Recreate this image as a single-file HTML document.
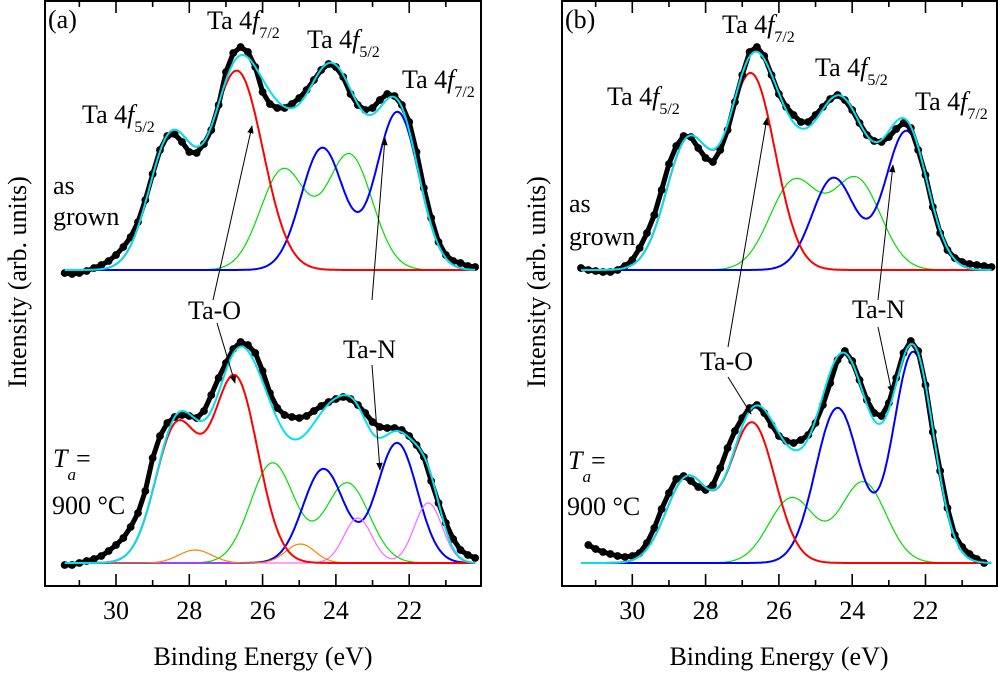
<!DOCTYPE html>
<html><head><meta charset="utf-8"><style>
html,body{margin:0;padding:0;background:#fff;}
svg, svg text, svg tspan{font-family:"Liberation Serif","DejaVu Serif","Times New Roman",serif;}
text{fill:#000;}
</style></head><body>
<svg id="fig" width="998" height="671" viewBox="0 0 998 671">
<defs>
<marker id="ah" viewBox="0 0 10 10" refX="9" refY="5" markerWidth="8" markerHeight="8" orient="auto-start-reverse" markerUnits="userSpaceOnUse">
<path d="M0,1 L10,5 L0,9 z" fill="#000"/></marker>
</defs>
<g id="panelA"></g>
<g id="panelB"></g>

<g font-size="26">
<text x="48" y="28">(a)</text>
<text x="207" y="29">Ta 4<tspan font-style="italic">f</tspan><tspan font-size="16" dy="9">7/2</tspan></text>
<text x="307" y="48">Ta 4<tspan font-style="italic">f</tspan><tspan font-size="16" dy="9">5/2</tspan></text>
<text x="402" y="88">Ta 4<tspan font-style="italic">f</tspan><tspan font-size="16" dy="9">7/2</tspan></text>
<text x="82" y="123">Ta 4<tspan font-style="italic">f</tspan><tspan font-size="16" dy="9">5/2</tspan></text>
<text x="53" y="194">as</text>
<text x="53" y="225">grown</text>
<text x="188" y="319">Ta-O</text>
<text x="343" y="358">Ta-N</text>
<text x="53" y="467"><tspan font-style="italic">T</tspan><tspan font-style="italic" font-size="17" dy="13">a</tspan><tspan dy="-13">=</tspan></text>
<text x="52" y="514">900 °C</text>
<text x="263" y="665" text-anchor="middle">Binding Energy (eV)</text>
<text transform="translate(26,282) rotate(-90)" text-anchor="middle">Intensity (arb. units)</text>
</g>
<g stroke="#000" stroke-width="1" marker-end="url(#ah)">
<line x1="213" y1="300" x2="252" y2="126"/>
<line x1="217" y1="323" x2="235" y2="383"/>
<line x1="372" y1="300" x2="385" y2="138"/>
<line x1="372" y1="365" x2="380" y2="470"/>
</g>

<g font-size="26">
<text x="565" y="28">(b)</text>
<text x="722" y="33">Ta 4<tspan font-style="italic">f</tspan><tspan font-size="16" dy="9">7/2</tspan></text>
<text x="815" y="76">Ta 4<tspan font-style="italic">f</tspan><tspan font-size="16" dy="9">5/2</tspan></text>
<text x="915" y="110">Ta 4<tspan font-style="italic">f</tspan><tspan font-size="16" dy="9">7/2</tspan></text>
<text x="607" y="105">Ta 4<tspan font-style="italic">f</tspan><tspan font-size="16" dy="9">5/2</tspan></text>
<text x="569" y="212">as</text>
<text x="569" y="245">grown</text>
<text x="700" y="370">Ta-O</text>
<text x="852" y="318">Ta-N</text>
<text x="568" y="469"><tspan font-style="italic">T</tspan><tspan font-style="italic" font-size="17" dy="13">a</tspan><tspan dy="-13">=</tspan></text>
<text x="567" y="515">900 °C</text>
<text x="779" y="665" text-anchor="middle">Binding Energy (eV)</text>
<text transform="translate(545,282) rotate(-90)" text-anchor="middle">Intensity (arb. units)</text>
</g>
<g stroke="#000" stroke-width="1" marker-end="url(#ah)">
<line x1="728" y1="347" x2="767" y2="118"/>
<line x1="728" y1="377" x2="751" y2="414"/>
<line x1="878" y1="300" x2="893" y2="165"/>
<line x1="878" y1="327" x2="892" y2="393"/>
</g>
</svg>
<script>
const energies=[31.4,31.2,31.0,30.8,30.6,30.4,30.2,30.0,29.8,29.6,29.4,29.2,29.0,28.8,28.6,28.4,28.2,28.0,27.8,27.6,27.4,27.2,27.0,26.8,26.6,26.4,26.2,26.0,25.8,25.6,25.4,25.2,25.0,24.8,24.6,24.4,24.2,24.0,23.8,23.6,23.4,23.2,23.0,22.8,22.6,22.4,22.2,22.0,21.8,21.6,21.4,21.2,21.0,20.8,20.6,20.4,20.2];
const majorTicks=[30,28,26,24,22];
const minorTicks=[31,29,27,25,23,21];
const tickLabels=["30","28","26","24","22"];
const offsetTop=316, offsetBottom=23;

const aTopData=[-3,-4,-3,-1,2,5,9,15,23,33,48,70,96,120,134,136,128,118,117,126,140,165,198,217,223,218,203,178,166,162,162,166,172,180,190,200,206,203,193,176,165,160,162,170,176,174,165,148,118,82,52,28,15,9,7,4,3];
const aTopCenters=[26.69,28.5,25.44,23.63,24.37,22.32];
const aTopHeights=[198,132,100,115,122,158];
const aTopWidths=[0.7,0.6,0.62,0.62,0.58,0.58];
const aTopSeries=["red","red","green","green","blue","blue"];

const aBotData=[-2,-2,0,2,4,7,12,18,25,36,50,72,105,127,140,146,148,147,145,152,168,185,200,214,221,218,210,192,170,155,148,146,145,147,152,157,161,164,166,164,158,150,141,136,135,135,133,127,118,106,82,60,40,24,13,8,5];
const aBotCenters=[26.75,28.35,25.73,23.69,24.34,22.33,23.4,21.48,27.84,24.97];
const aBotHeights=[185,135,100,80,94,120,45,60,13,19];
const aBotWidths=[0.62,0.58,0.6,0.6,0.56,0.55,0.38,0.38,0.45,0.4];
const aBotSeries=["red","red","green","green","blue","blue","pink","pink","orange","orange"];

const bTopData=[2,0,-1,-2,-2,0,4,10,22,37,55,80,106,124,134,133,122,112,108,120,140,168,195,218,223,214,195,176,163,155,148,148,155,163,171,175,170,160,147,135,129,128,133,141,147,142,120,95,63,37,20,12,8,6,5,4,3];
const bTopCenters=[26.75,28.48,25.59,23.88,24.51,22.52];
const bTopHeights=[195,128,88,90,92,139];
const bTopWidths=[0.65,0.6,0.66,0.66,0.58,0.58];
const bTopSeries=["red","red","green","green","blue","blue"];

const bBotData=[null,18,14,11,9,7,6,7,10,20,35,54,70,84,87,82,76,73,78,95,115,132,145,155,158,150,138,127,122,120,123,128,140,158,180,203,212,202,183,163,150,147,160,185,210,222,212,178,131,92,55,28,16,9,4,0,null];
const bBotCenters=[26.73,28.5,25.65,23.7,24.4,22.33];
const bBotHeights=[140,85,65,81,155,211];
const bBotWidths=[0.62,0.58,0.62,0.62,0.6,0.55];
const bBotSeries=["red","red","green","green","blue","blue"];

const seriesStyle={red:["#ff0000",2],green:["#00dd00",1.2],blue:["#0000ff",2],pink:["#ff66ff",1.2],orange:["#ff8000",1.2]};
const NS="http://www.w3.org/2000/svg";

function makeScales(x30){
  return {x:E=>x30+(30-E)*36.65, y:v=>586-v};
}
function gauss(E,c,h,w){return h*Math.exp(-0.5*((E-c)/w)*((E-c)/w));}

function drawFrame(g,x0,x1,sc,tag){
  const r=document.createElementNS(NS,"rect");
  r.setAttribute("x",x0);r.setAttribute("y",1);r.setAttribute("width",x1-x0);r.setAttribute("height",585);
  r.setAttribute("fill","none");r.setAttribute("stroke","#000");r.setAttribute("stroke-width","2");
  
  
  g.appendChild(r);
  const tg=document.createElementNS(NS,"g");
  
  
  g.appendChild(tg);
  function tick(E,len,kind){
    const x=sc.x(E);
    [[586,586-len],[1,1+len]].forEach(([a,b])=>{
      const l=document.createElementNS(NS,"line");
      l.setAttribute("x1",x);l.setAttribute("x2",x);l.setAttribute("y1",a);l.setAttribute("y2",b);
      l.setAttribute("stroke","#000");l.setAttribute("stroke-width","1.6");
      
      
      tg.appendChild(l);
    });
  }
  majorTicks.forEach(E=>tick(E,12,"major"));
  minorTicks.forEach(E=>tick(E,6,"minor"));
  majorTicks.forEach((E,i)=>{
    const t=document.createElementNS(NS,"text");
    t.setAttribute("x",sc.x(E));t.setAttribute("y",619);t.setAttribute("text-anchor","middle");t.setAttribute("font-size","26");
    t.textContent=tickLabels[i];
    
    
    tg.appendChild(t);
  });
}

function drawSpectrum(g,sc,offset,data,centers,heights,widths,series,tag){
  const sg=document.createElementNS(NS,"g");
  
  
  g.appendChild(sg);
  const Emin=20.2, Emax=31.4;
  const order=["green","blue","pink","orange","red"];
  order.forEach(s=>{
    const idx=series.map((v,i)=>v===s?i:-1).filter(i=>i>=0);
    if(!idx.length) return;
    let d="";
    for(let E=Emax;E>=Emin-1e-9;E-=0.04){
      let v=0; idx.forEach(i=>v+=gauss(E,centers[i],heights[i],widths[i]));
      d+=(d?"L":"M")+sc.x(E).toFixed(1)+","+sc.y(offset+v).toFixed(1);
    }
    const p=document.createElementNS(NS,"path");
    p.setAttribute("d",d);p.setAttribute("fill","none");
    p.setAttribute("stroke",seriesStyle[s][0]);p.setAttribute("stroke-width",seriesStyle[s][1]);
    
    
    sg.appendChild(p);
  });
  const dg=document.createElementNS(NS,"g");
  
  
  sg.appendChild(dg);
  let dd="";
  data.forEach((v,i)=>{
    if(v===null) return;
    dd+=(dd?"L":"M")+sc.x(energies[i]).toFixed(1)+","+sc.y(offset+v).toFixed(1);
  });
  const chain=document.createElementNS(NS,"path");
  chain.setAttribute("d",dd);chain.setAttribute("fill","none");chain.setAttribute("stroke","#000");
  chain.setAttribute("stroke-width","5");chain.setAttribute("stroke-linejoin","round");chain.setAttribute("stroke-linecap","round");
  
  
  dg.appendChild(chain);
  data.forEach((v,i)=>{
    if(v===null) return;
    const c=document.createElementNS(NS,"circle");
    c.setAttribute("cx",sc.x(energies[i]));c.setAttribute("cy",sc.y(offset+v));c.setAttribute("r","3.9");c.setAttribute("fill","#000");
    
    
    dg.appendChild(c);
  });
  let d="";
  for(let E=Emax;E>=Emin-1e-9;E-=0.04){
    let v=0; centers.forEach((c,i)=>v+=gauss(E,c,heights[i],widths[i]));
    d+=(d?"L":"M")+sc.x(E).toFixed(1)+","+sc.y(offset+v).toFixed(1);
  }
  const p=document.createElementNS(NS,"path");
  p.setAttribute("d",d);p.setAttribute("fill","none");p.setAttribute("stroke","#00e0f0");p.setAttribute("stroke-width","2");
  
  
  sg.appendChild(p);
}

const scA=makeScales(116), scB=makeScales(632.3);
const gA=document.getElementById("panelA"), gB=document.getElementById("panelB");
drawSpectrum(gA,scA,offsetTop,aTopData,aTopCenters,aTopHeights,aTopWidths,aTopSeries,"a-as-grown");
drawSpectrum(gA,scA,offsetBottom,aBotData,aBotCenters,aBotHeights,aBotWidths,aBotSeries,"a-900C");
drawSpectrum(gB,scB,offsetTop,bTopData,bTopCenters,bTopHeights,bTopWidths,bTopSeries,"b-as-grown");
drawSpectrum(gB,scB,offsetBottom,bBotData,bBotCenters,bBotHeights,bBotWidths,bBotSeries,"b-900C");
drawFrame(gA,45,481,scA,"a");
drawFrame(gB,562,997,scB,"b");
</script>
</body></html>
